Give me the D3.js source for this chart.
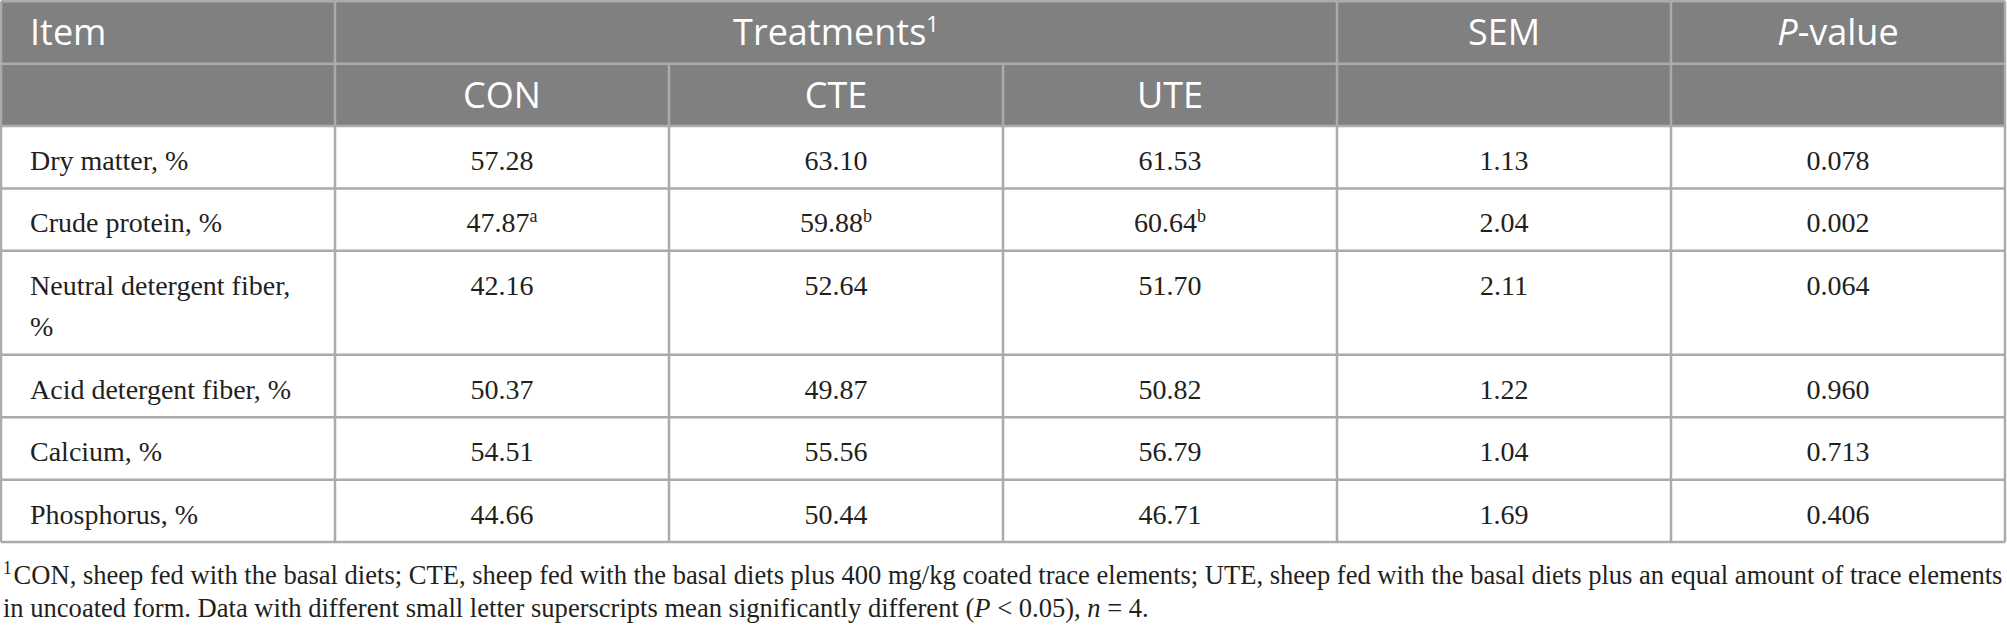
<!DOCTYPE html>
<html>
<head>
<meta charset="utf-8">
<script src="https://cdn.jsdelivr.net/npm/d3@7"></script>
<style>
  body { margin: 0; background: #fff; }
  svg { display: block; }
</style>
</head>
<body>
<div id="chart"></div>
<script>
// table contents
const items = ["Dry matter, %", "Crude protein, %", "Neutral detergent fiber, %",
  "Acid detergent fiber, %", "Calcium, %", "Phosphorus, %"];
const treatments = ["CON", "CTE", "UTE"];
const conValues = [57.28, 47.87, 42.16, 50.37, 54.51, 44.66];
const cteValues = [63.10, 59.88, 52.64, 49.87, 55.56, 50.44];
const uteValues = [61.53, 60.64, 51.70, 50.82, 56.79, 46.71];
const conSup = ["", "a", "", "", "", ""];
const cteSup = ["", "b", "", "", "", ""];
const uteSup = ["", "b", "", "", "", ""];
const semValues = [1.13, 2.04, 2.11, 1.22, 1.04, 1.69];
const pValues = [0.078, 0.002, 0.064, 0.960, 0.713, 0.406];
const footLine1 = "CON, sheep fed with the basal diets; CTE, sheep fed with the basal diets plus 400 mg/kg coated trace elements; UTE, sheep fed with the basal diets plus an equal amount of trace elements";
const footLine2 = ["in uncoated form. Data with different small letter superscripts mean significantly different (", "P", " < 0.05), ", "n", " = 4."];

class TableChart {

  constructor(rootsel) {
    this.root = d3.select(rootsel);
    this.W = 2007;
    this.H = 630;
    this.rowH = 62.4;   // single line row
    this.lineH = 41.6;  // extra per wrapped line
    this.pad = 29;
    this.serif = "'Liberation Serif', 'Times New Roman', serif";
    this.sans = "'Open Sans', 'Noto Sans', sans-serif";
    this.svg = this.root.append('svg')
      .attr('width', this.W)
      .attr('height', this.H)
      .style('background-color', '#fff');

    this.xscale = d3.scaleBand()
      .domain(d3.range(6))
      .range([1, 2005]);

    this.rows = items.map((name, i) => ({
      name: name,
      cells: [
        {v: conValues[i].toFixed(2), sup: conSup[i]},
        {v: cteValues[i].toFixed(2), sup: cteSup[i]},
        {v: uteValues[i].toFixed(2), sup: uteSup[i]},
        {v: semValues[i].toFixed(2), sup: ''},
        {v: pValues[i].toFixed(3), sup: ''}
      ]
    }));

    this.gBody = this.svg.append('g');
    this.gHead = this.svg.append('g');
    this.gLines = this.svg.append('g');
    this.layoutRows();
    this.drawHeader();
    this.drawBody();
    this.drawGrid();
    this.drawFootnote();
  }

  // word-wrap the item names against the first column and work out row heights
  layoutRows() {
    let maxW = this.xscale.bandwidth() - this.pad - 15;
    let probe = this.svg.append('text')
      .attr('font-family', this.serif)
      .attr('font-size', 28);
    for (let row of this.rows) {
      let lines = [];
      let line = '';
      for (let word of row.name.split(' ')) {
        let test = line ? line + ' ' + word : word;
        probe.text(test);
        if (line && probe.node().getComputedTextLength() > maxW) {
          lines.push(line);
          line = word;
        } else {
          line = test;
        }
      }
      lines.push(line);
      row.lines = lines;
      row.h = this.rowH + this.lineH * (lines.length - 1);
    }
    probe.remove();
    let top0 = 1.25 + 2 * this.rowH;
    let tops = [top0].concat(Array.from(d3.cumsum(this.rows, d => d.h), v => top0 + v));
    this.rows.forEach((r, i) => { r.y0 = tops[i]; r.y1 = tops[i + 1]; });
    this.headTop = 1.25;
    this.tableBottom = tops[tops.length - 1];
  }

  drawHeader() {
    let x = this.xscale;
    let bw = x.bandwidth();
    let y1 = this.headTop, y2 = y1 + this.rowH;
    this.gHead.append('rect')
      .attr('x', x(0)).attr('y', y1)
      .attr('width', x(5) + bw - x(0))
      .attr('height', 2 * this.rowH)
      .attr('fill', '#808080');

    let head = this.gHead.append('g')
      .attr('font-family', this.sans)
      .attr('font-size', 36)
      .attr('fill', '#fff');
    let base1 = y1 + 44, base2 = y2 + 44;

    head.append('text').attr('x', x(0) + this.pad).attr('y', base1).text('Item');

    let tr = head.append('text')
      .attr('x', (x(1) + x(3) + bw) / 2)
      .attr('y', base1)
      .attr('text-anchor', 'middle');
    tr.append('tspan').text('Treatments');
    tr.append('tspan').attr('font-size', 22).attr('dy', -13).text('1');

    head.append('text')
      .attr('x', x(4) + bw / 2).attr('y', base1)
      .attr('text-anchor', 'middle').text('SEM');
    let pv = head.append('text')
      .attr('x', x(5) + bw / 2).attr('y', base1)
      .attr('text-anchor', 'middle');
    pv.append('tspan').attr('font-style', 'italic').text('P');
    pv.append('tspan').text('-value');

    head.selectAll('text.treat')
      .data(treatments)
      .join('text')
        .classed('treat', true)
        .attr('x', (d, i) => x(i + 1) + bw / 2)
        .attr('y', base2)
        .attr('text-anchor', 'middle')
        .text(d => d);
  }

  drawBody() {
    let x = this.xscale;
    let bw = x.bandwidth();
    let body = this.gBody
      .attr('font-family', this.serif)
      .attr('font-size', 28)
      .attr('fill', '#231f20');

    let rowsel = body.selectAll('g.row')
      .data(this.rows)
      .join('g')
        .classed('row', true)
        .attr('transform', d => 'translate(0 ' + d.y0 + ')');

    rowsel.append('text')
      .attr('x', x(0) + this.pad)
      .attr('y', 44)
      .selectAll('tspan')
      .data(d => d.lines)
      .join('tspan')
        .attr('x', x(0) + this.pad)
        .attr('y', (d, i) => 44 + i * this.lineH)
        .text(d => d);

    let cells = rowsel.selectAll('text.val')
      .data(d => d.cells)
      .join('text')
        .classed('val', true)
        .attr('x', (d, i) => x(i + 1) + bw / 2)
        .attr('y', 44)
        .attr('text-anchor', 'middle');
    cells.append('tspan').text(d => d.v);
    cells.filter(d => d.sup)
      .append('tspan')
        .attr('font-size', 18)
        .attr('dy', -10)
        .text(d => d.sup);
  }

  drawGrid() {
    let x = this.xscale;
    let bw = x.bandwidth();
    let stroke = '#ababab';
    let left = x(0), right = x(5) + bw;
    let hy = [this.headTop, this.headTop + this.rowH]
      .concat(this.rows.map(r => r.y0), [this.tableBottom]);
    this.gLines.selectAll('line.h')
      .data(hy)
      .join('line')
        .classed('h', true)
        .attr('x1', left).attr('x2', right)
        .attr('y1', d => d).attr('y2', d => d)
        .attr('stroke', stroke)
        .attr('stroke-width', 2.5);

    // vertical segments: first header row spans treatments across three columns
    let segs = [];
    let bands = [[this.headTop, this.headTop + this.rowH, [0, 1, 4, 5, 6]],
                 [this.headTop + this.rowH, this.tableBottom, [0, 1, 2, 3, 4, 5, 6]]];
    for (let [y0, y1, cols] of bands) {
      for (let c of cols) {
        let xx = c < 6 ? x(c) : right;
        segs.push({x: xx, y0: y0, y1: y1});
      }
    }
    this.gLines.selectAll('line.v')
      .data(segs)
      .join('line')
        .classed('v', true)
        .attr('x1', d => d.x).attr('x2', d => d.x)
        .attr('y1', d => d.y0).attr('y2', d => d.y1)
        .attr('stroke', stroke)
        .attr('stroke-width', 2.5);
  }

  drawFootnote() {
    let g = this.svg.append('g')
      .attr('font-family', this.serif)
      .attr('font-size', 27.5)
      .attr('fill', '#231f20');
    let l1 = g.append('text').attr('x', 0).attr('y', 0);
    l1.append('tspan').attr('font-size', 18).attr('dy', -10).text('1');
    l1.append('tspan').attr('dy', 10).attr('dx', 2).text(footLine1);
    let l2 = g.append('text').attr('x', 0).attr('y', 33);
    l2.selectAll('tspan')
      .data(footLine2)
      .join('tspan')
        .attr('font-style', (d, i) => (i === 1 || i === 3) ? 'italic' : null)
        .text(d => d);
    // the source face is a little narrower; squeeze to the table width
    let w = l1.node().getBBox().width;
    let k = 2001 / w;
    g.attr('transform', 'translate(3 ' + (this.tableBottom + 42) + ') scale(' + k + ' 1)');
  }
}

new TableChart('#chart');
</script>
</body>
</html>
